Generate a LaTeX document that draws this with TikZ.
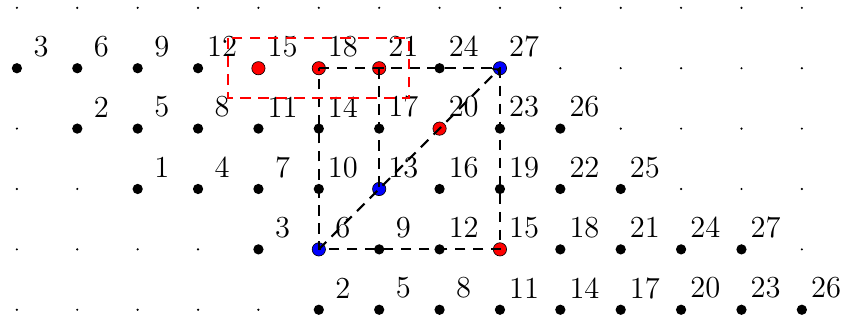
\documentclass[tikz,border=0pt]{standalone}
\begin{document}
\begin{tikzpicture}[
  gdot/.style={circle,fill=black,inner sep=0pt,minimum size=0.4mm},
  bdot/.style={circle,fill=black,inner sep=0pt,minimum size=1.7mm},
  rdot/.style={circle,fill=red,draw=black,line width=0.3pt,inner sep=0pt,minimum size=2.2mm},
  bldot/.style={circle,fill=blue,draw=black,line width=0.3pt,inner sep=0pt,minimum size=2.2mm},
  lab/.style={font=\fontsize{14.4}{17}\selectfont,inner sep=0pt},
  bl/.style={black,line width=1pt,dash pattern=on 5pt off 3.5pt},
  rl/.style={red,line width=1pt,dash pattern=on 5pt off 3.5pt}
]
\useasboundingbox (-0.28,0.13) rectangle (13.665,-5.18);
% small grid dots
\foreach \c in {0,...,13}{
  \foreach \r in {0,...,5}{
    \node[gdot] (g-\c-\r) at (\c,-\r) {};
  }
}
% labelled dots: row, first column, last column, label offset
\foreach \r/\a/\b/\k in {1/0/8/3, 2/1/9/-1, 3/2/10/-5, 4/4/12/-9, 5/5/13/-13}{
  \foreach \c in {\a,...,\b}{
    \pgfmathtruncatemacro{\v}{3*\c+\k}
    \node[bdot] (p-\c-\r) at (\c,-\r) {};
    \node[lab] (l-\c-\r) at (\c+0.4,-\r+0.36) {\v};
  }
}
% coloured dots
\node[rdot] (c-4-1) at (p-4-1) {};
\node[rdot] (c-5-1) at (p-5-1) {};
\node[rdot] (c-6-1) at (p-6-1) {};
\node[rdot] (c-7-2) at (p-7-2) {};
\node[rdot] (c-8-4) at (p-8-4) {};
\node[bldot] (c-8-1) at (p-8-1) {};
\node[bldot] (c-6-3) at (p-6-3) {};
\node[bldot] (c-5-4) at (p-5-4) {};
% dashed black lines
\draw[bl] (c-5-1.center) -- (c-6-1.center) -- (p-7-1.center) -- (c-8-1.center)
  -- (p-8-2.center) -- (p-8-3.center) -- (c-8-4.center)
  -- (p-7-4.center) -- (p-6-4.center) -- (c-5-4.center)
  -- (p-5-3.center) -- (p-5-2.center) -- cycle;
\draw[bl] (c-6-1.center) -- (p-6-2.center) -- (c-6-3.center);
\draw[bl,->] (c-5-4.center) -- (c-8-1.center);
% red dashed rectangle
\coordinate (r1) at (3.5,-0.5);
\coordinate (r2) at (6.5,-1.5);
\draw[rl] (r1) rectangle (r2);
\end{tikzpicture}
\end{document}
